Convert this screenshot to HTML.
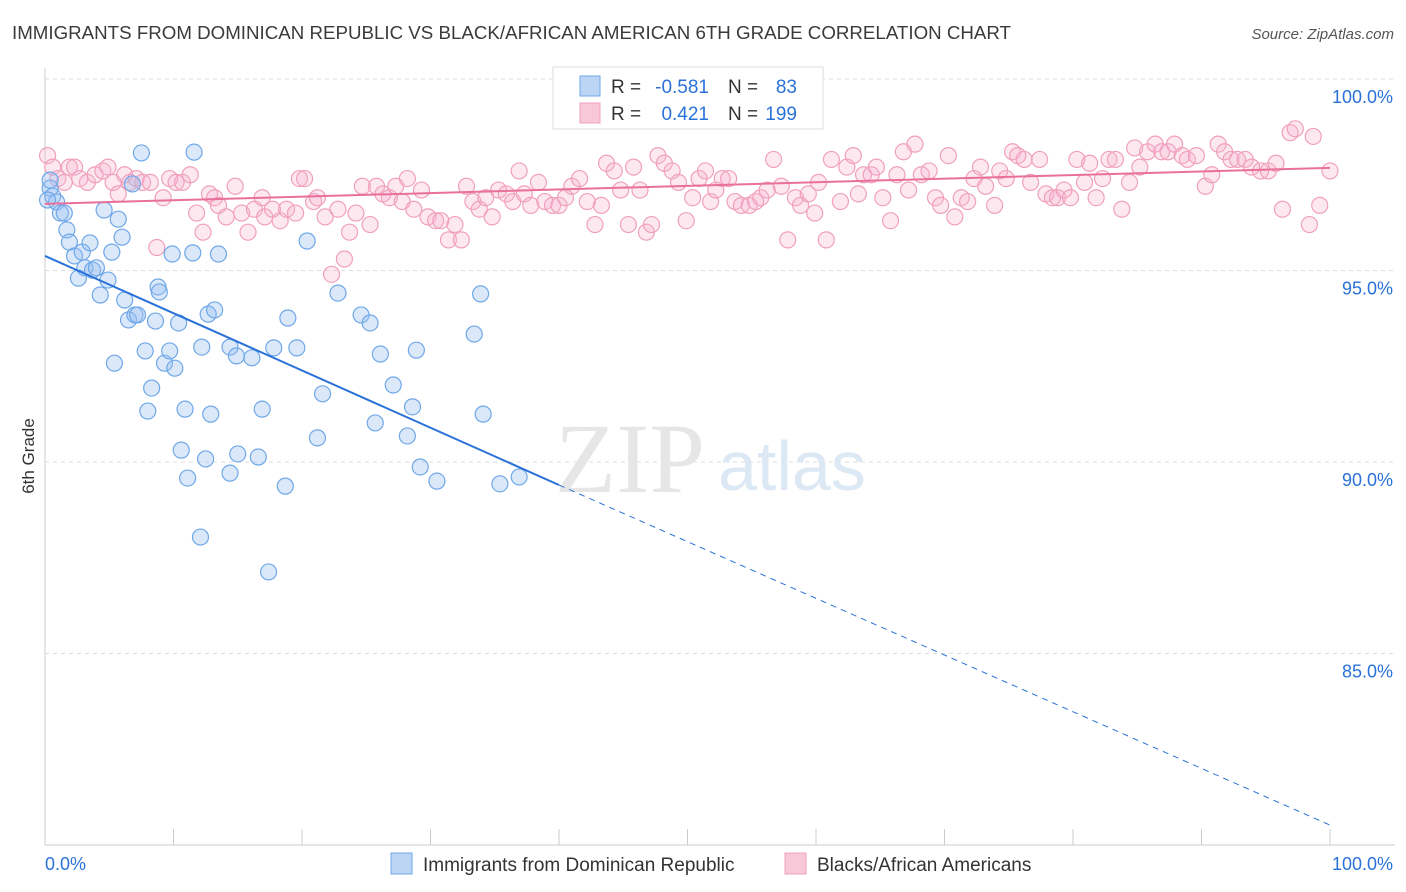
<!DOCTYPE html>
<html><head><meta charset="utf-8"><style>
body{margin:0;background:#fff;font-family:"Liberation Sans",sans-serif;}
#wrap{position:relative;width:1406px;height:892px;overflow:hidden;}
</style></head><body>
<div id="wrap">
<svg id="svg" width="1406" height="892" xmlns="http://www.w3.org/2000/svg">
<text x="12" y="39" font-size="18" fill="#3a3a3a" textLength="999" lengthAdjust="spacingAndGlyphs">IMMIGRANTS FROM DOMINICAN REPUBLIC VS BLACK/AFRICAN AMERICAN 6TH GRADE CORRELATION CHART</text>
<text x="1394" y="39" font-size="15" fill="#555" font-style="italic" text-anchor="end">Source: ZipAtlas.com</text>
<text x="34" y="456" font-size="17" fill="#333" transform="rotate(-90 34 456)" text-anchor="middle">6th Grade</text>
<g id="grid"></g>
<g id="axes"></g>
<text x="555" y="492" font-size="100" fill="#e6e6e6" font-family="Liberation Serif,serif">ZIP</text>
<text x="718" y="490" font-size="70" fill="#dde8f5">atlas</text>
<g id="pinkpts"></g>
<g id="bluepts"></g>
<g id="lines"></g>
<g>
<rect x="553" y="67" width="270" height="62" fill="#fff" stroke="#ddd"/>
<rect x="580" y="76" width="20" height="20" fill="#bcd5f5" stroke="#6fa8e8"/>
<rect x="580" y="103" width="20" height="20" fill="#f9c8d8" stroke="#f0a0bc"/>
<g font-size="19" fill="#333">
<text x="611" y="93">R =</text>
<text x="709" y="93" text-anchor="end" fill="#2a72d8">-0.581</text>
<text x="728" y="93">N =</text>
<text x="797" y="93" text-anchor="end" fill="#2a72d8">83</text>
<text x="611" y="120">R =</text>
<text x="709" y="120" text-anchor="end" fill="#2a72d8">0.421</text>
<text x="728" y="120">N =</text>
<text x="797" y="120" text-anchor="end" fill="#2a72d8">199</text>
</g>
</g>
<g>
<rect x="391" y="853" width="21" height="21" fill="#bcd5f5" stroke="#6fa8e8"/>
<text x="423" y="871" font-size="19" fill="#333">Immigrants from Dominican Republic</text>
<rect x="785" y="853" width="21" height="21" fill="#f9c8d8" stroke="#f0a0bc"/>
<text x="817" y="871" font-size="19" fill="#333">Blacks/African Americans</text>
</g>
</svg>
</div>
<script>
const yTicks=[100,95,90,85];
const yTickLabels=["100.0%","95.0%","90.0%","85.0%"];
const xTickLabels=["0.0%","100.0%"];
const blueX=[0.4,0.6,0.9,1.2,1.5,1.7,1.9,2.3,2.6,2.9,3.1,3.5,3.7,4.0,4.3,4.6,4.9,5.2,5.4,5.7,6.0,6.2,6.5,6.8,7.0,7.2,7.5,7.8,8.0,8.3,8.6,8.8,8.9,9.3,9.7,9.9,10.1,10.4,10.6,10.9,11.1,11.5,11.6,12.1,12.2,12.5,12.7,12.9,13.2,13.5,14.4,14.4,14.9,15.0,16.1,16.6,16.9,17.4,17.8,18.7,18.9,19.6,20.4,21.2,21.6,22.8,24.6,25.3,25.7,26.1,27.1,28.2,28.6,28.9,29.2,30.5,33.4,33.9,34.1,35.4,36.9,0.2,0.4];
const blueY=[97.15,96.94,96.79,96.5,96.5,96.06,95.74,95.38,94.8,95.48,95.07,95.72,95.01,95.07,94.36,96.58,94.75,95.48,92.58,96.34,95.87,94.23,93.71,97.26,93.84,93.84,98.07,92.9,91.33,91.93,93.68,94.57,94.44,92.58,92.9,95.43,92.45,93.63,90.31,91.38,89.58,95.46,98.09,88.04,93.0,90.08,93.86,91.25,93.97,95.43,93.0,89.71,92.77,90.21,92.72,90.13,91.38,87.13,92.98,89.37,93.76,92.98,95.77,90.63,91.78,94.41,93.84,93.63,91.02,92.82,92.01,90.68,91.44,92.92,89.87,89.5,93.34,94.39,91.25,89.43,89.61,96.84,97.36];
const pinkX=[0.2,0.6,1.0,1.5,1.9,2.3,2.7,3.3,3.9,4.5,4.9,5.3,5.7,6.2,6.6,7.1,7.6,8.2,8.7,9.2,9.7,10.2,10.7,11.3,11.8,12.3,12.8,13.2,13.5,14.1,14.8,15.3,15.8,16.3,16.9,17.1,17.7,18.3,18.8,19.5,19.8,20.2,20.9,21.2,21.8,22.3,22.8,23.3,23.7,24.2,24.7,25.3,25.8,26.3,26.8,27.3,27.8,28.2,28.7,29.3,29.8,30.4,30.8,31.4,31.9,32.4,32.8,33.3,33.8,34.3,34.8,35.3,35.9,36.4,36.9,37.3,37.8,38.4,38.9,39.5,40.0,40.5,41.0,41.6,42.2,42.8,43.3,43.7,44.3,44.8,45.4,45.8,46.3,46.8,47.2,47.7,48.2,48.8,49.3,49.9,50.4,50.9,51.4,51.8,52.2,52.7,53.2,53.7,54.2,54.8,55.3,55.7,56.2,56.7,57.3,57.8,58.4,58.8,59.4,59.9,60.2,60.8,61.2,61.9,62.4,62.9,63.3,63.7,64.3,64.7,65.2,65.8,66.3,66.8,67.2,67.7,68.2,68.8,69.3,69.7,70.3,70.8,71.3,71.8,72.3,72.8,73.2,73.9,74.3,74.8,75.3,75.7,76.2,76.7,77.4,77.9,78.4,78.8,79.3,79.8,80.3,80.9,81.3,81.8,82.3,82.8,83.3,83.8,84.4,84.8,85.2,85.8,86.4,86.9,87.4,87.9,88.5,88.9,89.6,90.3,90.8,91.3,91.8,92.3,92.8,93.4,93.9,94.6,95.2,95.8,96.3,96.9,97.3,98.4,98.7,99.2,100];
const pinkY=[98.0,97.7,97.4,97.3,97.7,97.7,97.4,97.3,97.5,97.6,97.7,97.3,97.0,97.5,97.3,97.4,97.3,97.3,95.6,96.9,97.4,97.3,97.3,97.5,96.5,96.0,97.0,96.9,96.7,96.4,97.2,96.5,96.0,96.6,96.9,96.4,96.6,96.3,96.6,96.5,97.4,97.4,96.8,96.9,96.4,94.9,96.6,95.3,96.0,96.5,97.2,96.2,97.2,97.0,96.9,97.2,96.8,97.4,96.6,97.1,96.4,96.3,96.3,95.8,96.2,95.8,97.2,96.8,96.6,96.9,96.4,97.1,97.0,96.8,97.6,97.0,96.7,97.3,96.8,96.7,96.7,96.9,97.2,97.4,96.8,96.2,96.7,97.8,97.6,97.1,96.2,97.7,97.1,96.0,96.2,98.0,97.8,97.6,97.3,96.3,96.9,97.4,97.6,96.8,97.1,97.4,97.4,96.8,96.7,96.7,96.8,96.9,97.1,97.9,97.2,95.8,96.9,96.7,97.0,96.5,97.3,95.8,97.9,96.8,97.7,98.0,97.0,97.5,97.5,97.7,96.9,96.3,97.5,98.1,97.1,98.3,97.5,97.6,96.9,96.7,98.0,96.4,96.9,96.8,97.4,97.7,97.2,96.7,97.6,97.4,98.1,98.0,97.9,97.3,97.9,97.0,96.9,96.9,97.1,96.9,97.9,97.3,97.8,96.9,97.4,97.9,97.9,96.6,97.3,98.2,97.7,98.1,98.3,98.1,98.1,98.3,98.0,97.9,98.0,97.2,97.5,98.3,98.1,97.9,97.9,97.9,97.7,97.6,97.6,97.8,96.6,98.6,98.7,96.2,98.5,96.7,97.6];
const blueTrendX=[0,40,100];
const blueTrendY=[95.38,89.4,80.52];
const pinkTrendX=[0,100];
const pinkTrendY=[96.74,97.68];

const X0=45,X1=1330,YTOP=79,PXPER=38.3;
function sx(v){return X0+(X1-X0)*v/100;}
function sy(v){return YTOP+(100-v)*PXPER;}
const NS="http://www.w3.org/2000/svg";
function mk(tag,attrs,parent){const e=document.createElementNS(NS,tag);for(const k in attrs)e.setAttribute(k,attrs[k]);parent.appendChild(e);return e;}
const grid=document.getElementById('grid'),axes=document.getElementById('axes');
yTicks.forEach((t,i)=>{
 const l=mk('line',{x1:X0,x2:1395,y1:sy(t),y2:sy(t),stroke:'#dcdcdc','stroke-dasharray':'4,4'},grid);
 
 
 const tx=mk('text',{x:1393,y:sy(t)+24,'font-size':18,fill:'#2a72d8','text-anchor':'end'},axes);
 tx.textContent=yTickLabels[i];
 
 
});
const ya=mk('line',{x1:X0,x2:X0,y1:68,y2:845,stroke:'#ccc'},axes);


const xa=mk('line',{x1:X0,x2:1395,y1:845,y2:845,stroke:'#ccc'},axes);


for(let i=0;i<=10;i++){
 const t=mk('line',{x1:sx(i*10),x2:sx(i*10),y1:829,y2:845,stroke:'#ccc'},axes);
 
 
}
[[0,'start',45],[100,'end',1393]].forEach((a,i)=>{
 const tx=mk('text',{x:a[2],y:870,'font-size':18,fill:'#2a72d8','text-anchor':a[1]},axes);
 tx.textContent=xTickLabels[i];
 
 
});
const pg=document.getElementById('pinkpts');
pinkX.forEach((x,i)=>{
 const c=mk('circle',{cx:sx(x),cy:sy(pinkY[i]),r:8,fill:'rgba(247,180,205,0.3)',stroke:'#f0a0bc','stroke-width':1.2},pg);
 
 
});
const bg=document.getElementById('bluepts');
blueX.forEach((x,i)=>{
 const c=mk('circle',{cx:sx(x),cy:sy(blueY[i]),r:8,fill:'rgba(150,190,240,0.35)',stroke:'#6fa8e8','stroke-width':1.2},bg);
 
 
});
const lg=document.getElementById('lines');
const b1=mk('line',{x1:sx(blueTrendX[0]),y1:sy(blueTrendY[0]),x2:sx(blueTrendX[1]),y2:sy(blueTrendY[1]),stroke:'#2a72d8','stroke-width':2},lg);


const b2=mk('line',{x1:sx(blueTrendX[1]),y1:sy(blueTrendY[1]),x2:sx(blueTrendX[2]),y2:sy(blueTrendY[2]),stroke:'#2a72d8','stroke-width':1,'stroke-dasharray':'6,5'},lg);


const p1=mk('line',{x1:sx(pinkTrendX[0]),y1:sy(pinkTrendY[0]),x2:sx(pinkTrendX[1]),y2:sy(pinkTrendY[1]),stroke:'#e8709a','stroke-width':2},lg);


</script>
</body></html>
